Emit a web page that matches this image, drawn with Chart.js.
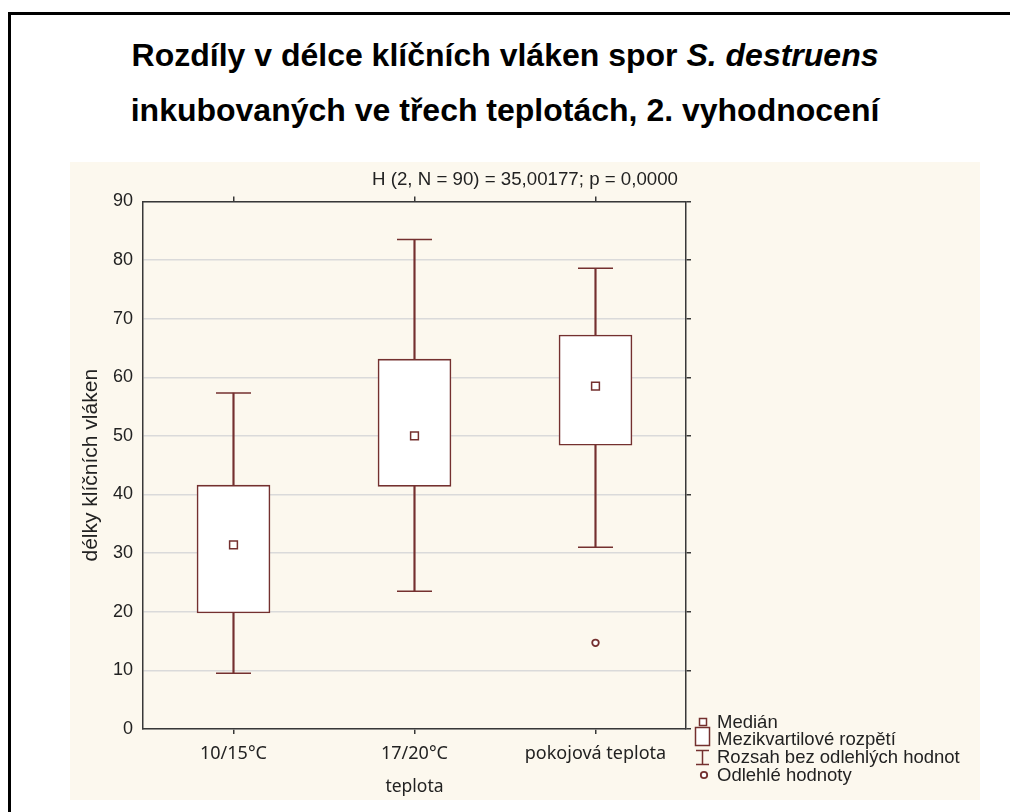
<!DOCTYPE html>
<html>
<head>
<meta charset="utf-8">
<script src="https://cdn.jsdelivr.net/npm/chart.js@4.4.1/dist/chart.umd.min.js"></script>
<style>
  body { margin: 0; width: 1010px; height: 812px; overflow: hidden; background: #fff; position: relative; font-family: "Liberation Sans", Arial, sans-serif; }
  #frame { position: absolute; left: 8px; top: 12px; width: 1100px; height: 900px; border: 3px solid #000; box-sizing: border-box; }
  #title { position: absolute; left: 0; top: 28px; width: 1010px; text-align: center; font-weight: bold; font-size: 32px; line-height: 55px; color: #000; }
  #plotBox { position: absolute; left: 70px; top: 162px; width: 910px; height: 638px; background: #fcf8ee; }
  #legend { position: absolute; left: 690px; top: 712px; width: 290px; height: 80px; }
  #legend svg { position: absolute; left: 0; top: 0; }
  .lg { position: absolute; left: 27px; font-size: 18.5px; line-height: 18px; color: #222; white-space: nowrap; }
</style>
</head>
<body>
<div id="frame"></div>
<div id="title">Rozdíly v délce klíčních vláken spor <i>S. destruens</i><br>inkubovaných ve třech teplotách, 2. vyhodnocení</div>
<div id="plotBox"><canvas id="js--chart"></canvas></div>
<div id="legend">
  <svg width="30" height="80">
    <rect x="9.5" y="6.5" width="7" height="7" fill="#fff" stroke="#74302f" stroke-width="1.5"/>
    <rect x="5.5" y="15.5" width="14" height="18" fill="#fff" stroke="#74302f" stroke-width="1.5"/>
    <line x1="6" y1="38.5" x2="19" y2="38.5" stroke="#74302f" stroke-width="1.5"/>
    <line x1="12.5" y1="38.5" x2="12.5" y2="52.5" stroke="#74302f" stroke-width="1.5"/>
    <line x1="6" y1="52.5" x2="19" y2="52.5" stroke="#74302f" stroke-width="1.5"/>
    <circle cx="14" cy="63" r="3.2" fill="#fff" stroke="#74302f" stroke-width="1.8"/>
  </svg>
  <div class="lg" style="top:1px">Medián</div>
  <div class="lg" style="top:18px">Mezikvartilové rozpětí</div>
  <div class="lg" style="top:36px">Rozsah bez odlehlých hodnot</div>
  <div class="lg" style="top:54px">Odlehlé hodnoty</div>
</div>
<script>
// data
const categories = ["10/15°C", "17/20°C", "pokojová teplota"];
const medians = [31.4, 50.0, 58.5];
const q1 = [19.8, 41.4, 48.4];
const q3 = [41.6, 63.1, 67.2];
const whiskerLow = [9.5, 23.5, 31.0];
const whiskerHigh = [57.3, 83.5, 78.6];
const outliers = [null, null, 14.7];
const yMin = 0;
const yMax = 90;
const yStep = 10;

const subtitle = "H (2, N = 90) = 35,00177; p = 0,0000";
const xTitle = "teplota";
const yTitle = "délky klíčních vláken";

const maroon = "#74302f";
const axisColor = "#383838";

// box + whisker opgebouwd uit floating bars en punten
const data = {
    labels: categories,
    datasets: [
        {
            type: "bar",
            data: whiskerLow.map(function (v, i) { return [v, whiskerHigh[i]]; }),
            backgroundColor: maroon,
            barThickness: 1.5,
            grouped: false,
            order: 3
        },
        {
            type: "bar",
            data: q1.map(function (v, i) { return [v, q3[i]]; }),
            backgroundColor: "#fff",
            borderColor: maroon,
            borderWidth: 1.6,
            borderSkipped: false,
            barThickness: 73,
            grouped: false,
            order: 2
        },
        {
            type: "line",
            data: whiskerLow,
            showLine: false,
            pointStyle: "line",
            pointRadius: 17.5,
            borderColor: maroon,
            pointBorderWidth: 1.5,
            order: 1
        },
        {
            type: "line",
            data: whiskerHigh,
            showLine: false,
            pointStyle: "line",
            pointRadius: 17.5,
            borderColor: maroon,
            pointBorderWidth: 1.5,
            order: 1
        },
        {
            type: "line",
            data: medians,
            showLine: false,
            pointStyle: "rect",
            pointRadius: 5.5,
            pointBackgroundColor: "#fff",
            pointBorderColor: maroon,
            pointBorderWidth: 1.5,
            order: 0
        },
        {
            type: "line",
            data: outliers,
            showLine: false,
            pointStyle: "circle",
            pointRadius: 3.3,
            pointBackgroundColor: "#fff",
            pointBorderColor: maroon,
            pointBorderWidth: 1.8,
            order: 0
        }
    ]
};

const config = {
    type: "bar",
    data: data,
    options: {
        responsive: true,
        maintainAspectRatio: false,
        animation: false,
        events: [],
        layout: { padding: 0 },
        plugins: {
            legend: { display: false },
            tooltip: { enabled: false },
            title: {
                display: true,
                text: subtitle,
                color: "#222",
                font: { family: "Liberation Sans", size: 18.7, weight: "normal" },
                padding: { top: 7, bottom: 5 }
            }
        },
        scales: {
            x: {
                type: "category",
                position: "bottom",
                offset: true,
                grid: { offset: false, drawOnChartArea: false, drawTicks: true, tickLength: 5, color: axisColor, lineWidth: 1.5 },
                border: { color: axisColor, width: 1.5 },
                ticks: { color: "#222", font: { family: "Noto Sans", size: 18 }, padding: 9, maxRotation: 0 },
                title: { display: true, text: xTitle, color: "#222", font: { family: "Noto Sans", size: 17.5 }, padding: { top: 0, bottom: 2 } },
                afterFit: function (scale) { scale.height = 71; }
            },
            x2: {
                type: "category",
                position: "top",
                offset: true,
                grid: { offset: false, drawOnChartArea: false, drawTicks: true, tickLength: 5, color: axisColor, lineWidth: 1.5 },
                border: { color: axisColor, width: 1.5 },
                ticks: { display: false },
                afterFit: function (scale) { scale.height = 5; }
            },
            y: {
                type: "linear",
                position: "left",
                min: yMin,
                max: yMax,
                ticks: { stepSize: yStep, color: "#222", font: { family: "Liberation Sans", size: 18 }, padding: 10 },
                grid: { color: "#dadada", lineWidth: 1.5, drawTicks: false },
                border: { color: axisColor, width: 1.5 },
                title: { display: true, text: yTitle, color: "#222", font: { family: "Liberation Sans", size: 21 }, padding: { top: 9, bottom: 0 } },
                afterFit: function (scale) { scale.width = 73; }
            },
            y2: {
                type: "linear",
                position: "right",
                min: yMin,
                max: yMax,
                ticks: { display: false, stepSize: yStep },
                grid: { drawOnChartArea: false, drawTicks: true, tickLength: 5, color: axisColor, lineWidth: 1.5 },
                border: { color: axisColor, width: 1.5 },
                afterFit: function (scale) { scale.width = 294; }
            }
        }
    }
};

new Chart(document.getElementById("js--chart"), config);
</script>
</body>
</html>
